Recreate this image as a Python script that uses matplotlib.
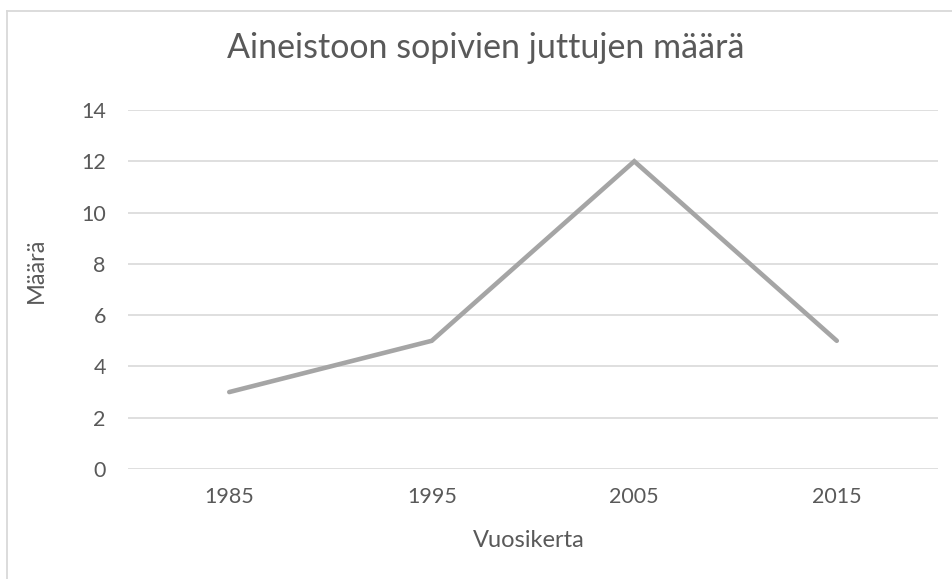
import matplotlib
matplotlib.use('Agg')
import matplotlib.pyplot as plt
from matplotlib.lines import Line2D

# data
years = ['1985', '1995', '2005', '2015']
counts = [3, 5, 12, 5]
yticks = [0, 2, 4, 6, 8, 10, 12, 14]

text_color = '#595959'
grid_color = '#d9d9d9'
line_color = '#a5a5a5'

plt.rcParams['font.family'] = ['Lato', 'DejaVu Sans']

fig = plt.figure(figsize=(9.53, 5.79), dpi=100)
ax = fig.add_axes([0.1343, 0.19, 0.85, 0.62])

x = list(range(len(years)))
ax.plot(x, counts, color=line_color, linewidth=3.3, solid_capstyle='round',
        solid_joinstyle='miter')

ax.set_xlim(-0.5, len(years) - 0.5)
ax.set_ylim(0, 14)
ax.set_yticks(yticks)
ax.set_xticks(x)
ax.set_xticklabels(years)
ax.yaxis.grid(True, color=grid_color, linewidth=1.2)
ax.set_axisbelow(True)
for s in ax.spines.values():
    s.set_visible(False)
ax.tick_params(axis='both', length=0, labelsize=15.5, colors=text_color)
ax.tick_params(axis='y', pad=16)
ax.tick_params(axis='x', pad=13)

# axis titles and chart title
fig.text(529 / 953, 1 - 547 / 579, 'Vuosikerta', fontsize=17,
         color=text_color, ha='center', va='baseline')
fig.text(36 / 953, 1 - 270 / 579, 'Määrä', fontsize=17, rotation=90,
         color=text_color, ha='center', va='center')
fig.text(486 / 953, 1 - 58 / 579, 'Aineistoon sopivien juttujen määrä',
         fontsize=24.5, color=text_color, ha='center', va='baseline')

# chart border (only left and top visible in the reference)
fig.add_artist(Line2D([7.5 / 953, 7.5 / 953], [0, 1 - 11 / 579],
                      transform=fig.transFigure, color=grid_color, linewidth=1.3))
fig.add_artist(Line2D([7.5 / 953, 1], [1 - 11 / 579, 1 - 11 / 579],
                      transform=fig.transFigure, color=grid_color, linewidth=1.3))

fig.savefig('out.png', dpi=100)
